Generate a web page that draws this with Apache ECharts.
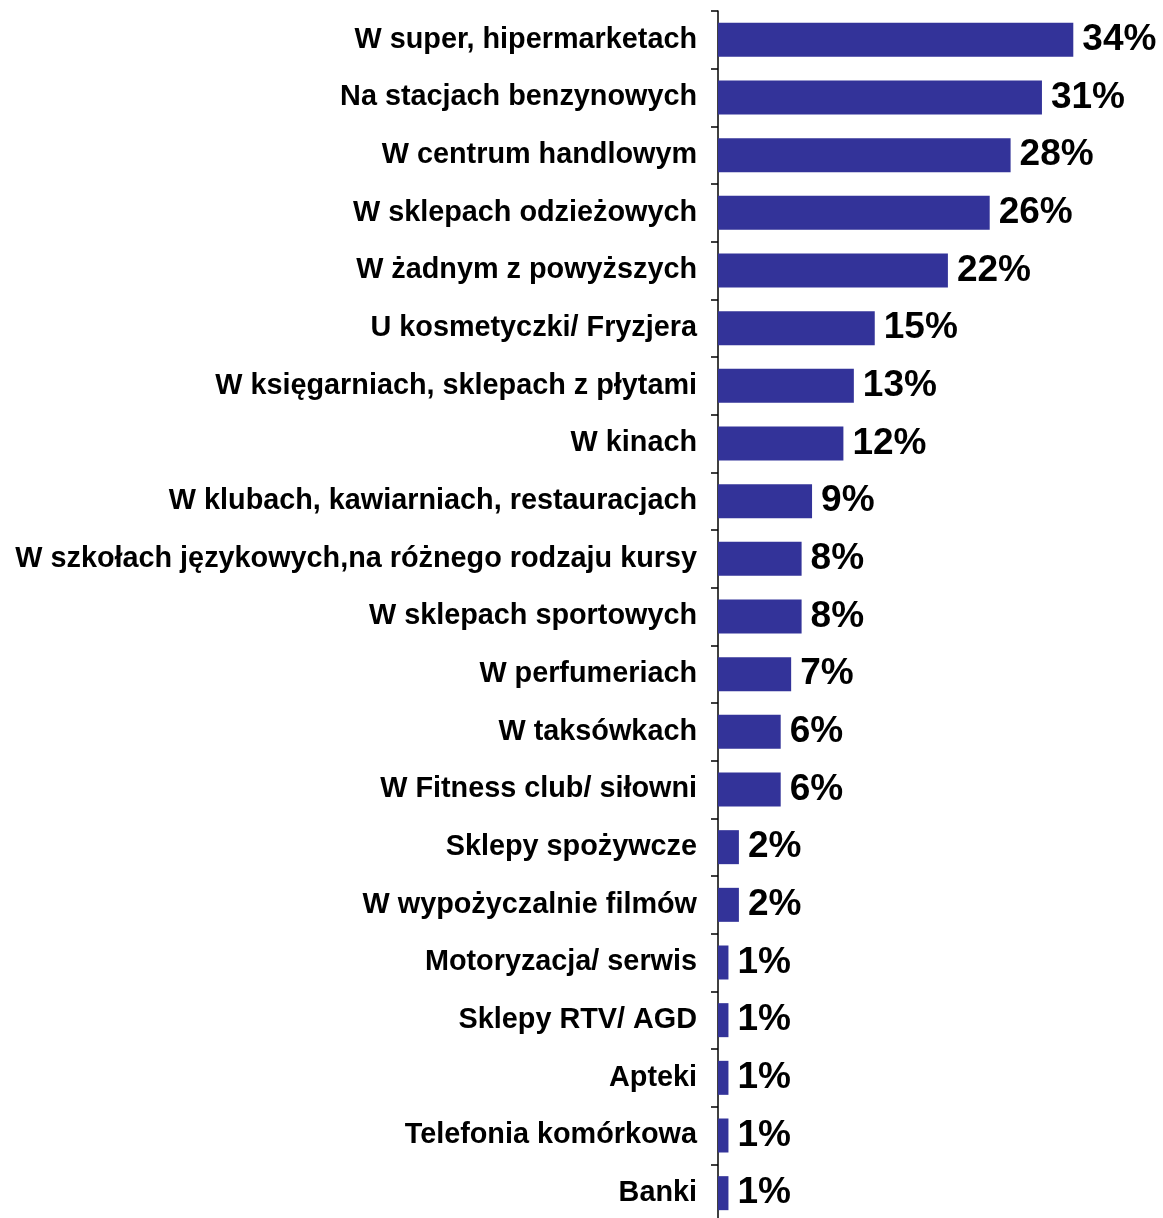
<!DOCTYPE html>
<html>
<head>
<meta charset="utf-8">
<script src="https://cdn.jsdelivr.net/npm/echarts@6/dist/echarts.min.js"></script>
<style>
  html, body { margin: 0; padding: 0; background: #fff; overflow: hidden; }
  /* the axis runs a little past the lower page edge */
  #chart { width: 1163px; height: 1222px; }
</style>
</head>
<body>
<div id="chart"></div>
<script>
// Places, listed top to bottom
const categories = [
  'W super, hipermarketach',
  'Na stacjach benzynowych',
  'W centrum handlowym',
  'W sklepach odzieżowych',
  'W żadnym z powyższych',
  'U kosmetyczki/ Fryzjera',
  'W księgarniach, sklepach z płytami',
  'W kinach',
  'W klubach, kawiarniach, restauracjach',
  'W szkołach językowych,na różnego rodzaju kursy',
  'W sklepach sportowych',
  'W perfumeriach',
  'W taksówkach',
  'W Fitness club/ siłowni',
  'Sklepy spożywcze',
  'W wypożyczalnie filmów',
  'Motoryzacja/ serwis',
  'Sklepy RTV/ AGD',
  'Apteki',
  'Telefonia komórkowa',
  'Banki'
];

// Share of answers, percent
const values = [34, 31, 28, 26, 22, 15, 13, 12, 9, 8, 8, 7, 6, 6, 2, 2, 1, 1, 1, 1, 1];

const chart = echarts.init(document.getElementById('chart'), null, { renderer: 'canvas' });

chart.setOption({
  animation: false,
  backgroundColor: '#ffffff',
  grid: { left: 718, top: 11, right: 27, bottom: 0 },
  xAxis: {
    type: 'value',
    min: 0,
    max: 40,
    show: false
  },
  yAxis: {
    type: 'category',
    data: categories,
    inverse: true,
    axisLine: { show: true, lineStyle: { color: '#000', width: 1.5 } },
    axisTick: { show: true, length: 7, lineStyle: { color: '#000', width: 1.5 } },
    splitLine: { show: false },
    axisLabel: {
      margin: 21,
      padding: [4, 0, 0, 0],
      color: '#000',
      fontFamily: 'Liberation Sans, Arial, sans-serif',
      fontWeight: 'bold',
      fontSize: 28.8
    }
  },
  series: [{
    type: 'bar',
    data: values,
    barWidth: 34,
    itemStyle: { color: '#333399' },
    label: {
      show: true,
      position: 'right',
      distance: 9,
      formatter: '{c}%',
      color: '#000',
      fontFamily: 'Liberation Sans, Arial, sans-serif',
      fontWeight: 'bold',
      fontSize: 37
    }
  }]
});
</script>
</body>
</html>
